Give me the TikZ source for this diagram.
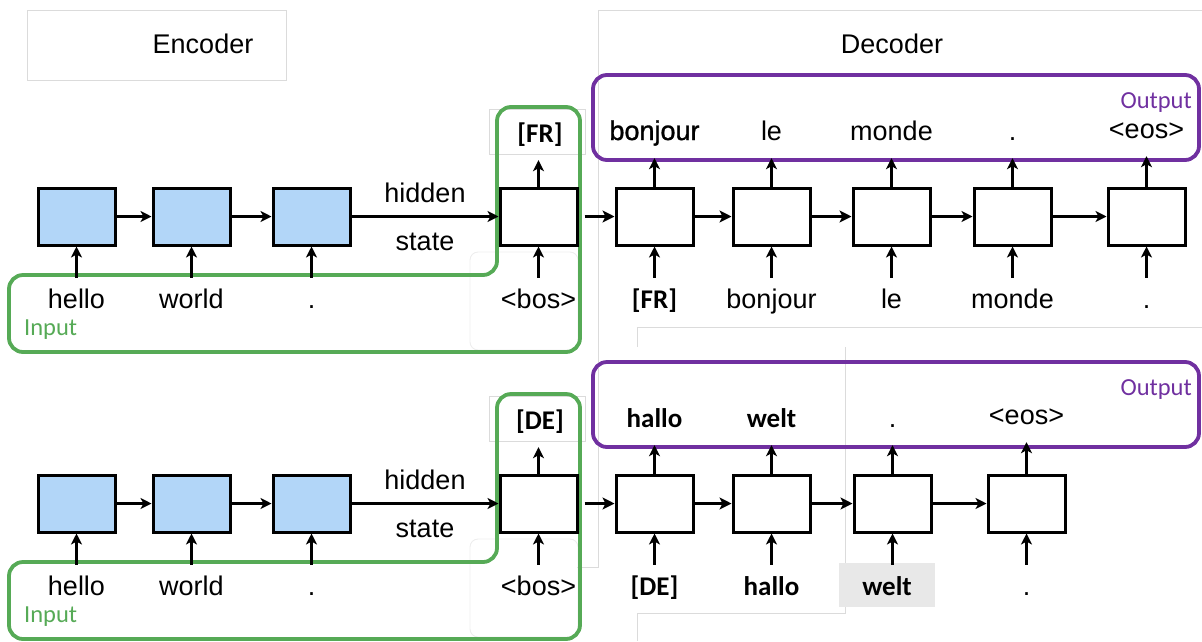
\documentclass[tikz,border=0pt]{standalone}
\usepackage{fontspec}
\setmainfont{Liberation Sans}
\newfontfamily\calfont{Carlito}
\newfontfamily\fbfont[FakeBold=1.2]{Liberation Sans}
\usetikzlibrary{arrows.meta}
\definecolor{cellblue}{RGB}{178,214,248}
\definecolor{ingreen}{RGB}{86,170,86}
\definecolor{outpurple}{RGB}{112,48,160}
\begin{document}
\begin{tikzpicture}[x=1pt,y=-1pt,
  cellbox/.style={draw=black, line width=3pt, minimum width=77pt, minimum height=57pt, inner sep=0pt},
  encbox/.style={cellbox, fill=cellblue},
  decbox/.style={cellbox, fill=white},
  word/.style={font=\fontsize{27}{32}\selectfont, text height=19pt, text depth=6pt, inner xsep=0pt, anchor=base},
  boldword/.style={word, font=\calfont\bfseries\fontsize{27}{32}\selectfont},
  inlab/.style={inner ysep=11pt},
  outlab/.style={inner ysep=12pt},
  title/.style={font=\fontsize{27}{32}\selectfont, anchor=base, inner sep=0pt},
  tagtext/.style={font=\calfont\fontsize{24.5}{29}\selectfont, inner sep=0pt},
  arr/.style={-{Stealth[length=11pt,width=11pt,inset=3pt]}, line width=2.5pt},
  thickarr/.style={-{Stealth[length=12pt,width=12pt,inset=3pt]}, line width=3.3pt},
  faint/.style={draw=black!14, line width=0.9pt},
  veryfaint/.style={draw=black!7, line width=0.9pt},
  greenline/.style={draw=ingreen, line width=3.8pt, rounded corners=14pt},
  purpleline/.style={draw=outpurple, line width=3.8pt, rounded corners=14pt}
]
\useasboundingbox (0,0) rectangle (1202,641);

% faint frames of the pasted pictures
\draw[faint] (27,10) rectangle (286,80);
\draw[faint] (577,567) -- (598,567) -- (598,10) -- (1202,10);
\draw[faint] (1202,327) -- (637,327) -- (637,347);
\draw[faint] (845,347) -- (845,613) -- (637,613) -- (637,641);
\draw[faint] (489,109) rectangle (585,154);
\draw[faint] (489,396) rectangle (585,441);
\draw[veryfaint, rounded corners=8pt] (470,252) rectangle (578,350);
\draw[veryfaint, rounded corners=8pt] (470,539) rectangle (578,637);
\fill[black!9] (839,563) rectangle (935,607);

\node[title] (enc) at (203,53) {Encoder};
\node[title] (dec) at (892,53) {Decoder};

% ---------- encoder part, both rows ----------
\foreach \r/\dy in {t/0,b/287}{
  \draw[greenline] (9,{352+\dy}) -- (9,{275+\dy}) -- (497,{275+\dy}) -- (497,{107+\dy}) -- (580,{107+\dy}) -- (580,{352+\dy}) -- cycle;
  \draw[purpleline] (593,{75+\dy}) rectangle (1199,{160+\dy});
  \node[tagtext, text=ingreen, anchor=base west] (\r input) at (24,{335+\dy}) {Input};
  \node[tagtext, text=outpurple, anchor=base east] (\r output) at (1192,{108+\dy}) {Output};
  \node[encbox] (\r e1) at (76.5,{216.5+\dy}) {};
  \node[encbox] (\r e2) at (191.5,{216.5+\dy}) {};
  \node[encbox] (\r e3) at (311.5,{216.5+\dy}) {};
  \node[decbox] (\r d0) at (538.5,{216.5+\dy}) {};
  \node[word, inlab] (\r i1) at (76.5,{308+\dy}) {hello};
  \node[word, inlab] (\r i2) at (191.5,{308+\dy}) {world};
  \node[word, inlab] (\r i3) at (311.5,{308+\dy}) {.};
  \node[word, inlab] (\r i0) at (538.5,{308+\dy}) {<bos>};
  \node[title] (\r hid) at (425,{202+\dy}) {hidden};
  \node[title] (\r st) at (425,{250+\dy}) {state};
  \draw[arr] (\r e1) -- (\r e2);
  \draw[arr] (\r e2) -- (\r e3);
  \draw[arr] (\r e3) -- (\r d0);
  \draw[arr] (\r i1.north -| \r e1.south) -- (\r e1.south);
  \draw[arr] (\r i2.north -| \r e2.south) -- (\r e2.south);
  \draw[arr] (\r i3.north -| \r e3.south) -- (\r e3.south);
  \draw[arr] (\r i0.north -| \r d0.south) -- (\r d0.south);
}

% ---------- top decoder ----------
\node[decbox] (td1) at (654.5,216.5) {};
\node[decbox] (td2) at (771.5,216.5) {};
\node[decbox] (td3) at (891.5,216.5) {};
\node[decbox] (td4) at (1012.5,216.5) {};
\node[decbox] (td5) at (1146.5,216.5) {};
\draw[thickarr, shorten <=6pt] (td0) -- (td1);
\draw[thickarr] (td1) -- (td2);
\draw[thickarr] (td2) -- (td3);
\draw[arr] (td3) -- (td4);
\draw[arr] (td4) -- (td5);

\node[boldword, outlab] (to0) at (540,142) {[FR]};
\node[word, outlab, font=\fbfont\fontsize{27}{32}\selectfont] (to1) at (654.5,140) {bonjour};
\node[word, outlab] (to2) at (771.5,140) {le};
\node[word, outlab] (to3) at (891.5,140) {monde};
\node[word, outlab] (to4) at (1012.5,140) {.};
\node[word, outlab] (to5) at (1146.5,138) {<eos>};

\node[boldword, inlab] (ti1) at (654.5,308) {[FR]};
\node[word, inlab] (ti2) at (771.5,308) {bonjour};
\node[word, inlab] (ti3) at (891.5,308) {le};
\node[word, inlab] (ti4) at (1012.5,308) {monde};
\node[word, inlab] (ti5) at (1146.5,308) {.};

\draw[arr] (td0.north) -- (to0.south -| td0.north);
\foreach \k in {1,...,5}{
  \draw[arr] (td\k.north) -- (to\k.south -| td\k.north);
  \draw[arr] (ti\k.north -| td\k.south) -- (td\k.south);
}

% ---------- bottom decoder ----------
\node[decbox] (bd1) at (654.5,503.5) {};
\node[decbox] (bd2) at (771.5,503.5) {};
\node[decbox] (bd3) at (892.5,503.5) {};
\node[decbox] (bd4) at (1026.5,503.5) {};
\draw[thickarr, shorten <=6pt] (bd0) -- (bd1);
\draw[thickarr] (bd1) -- (bd2);
\draw[thickarr] (bd2) -- (bd3);
\draw[arr] (bd3) -- (bd4);

\node[boldword, outlab] (bo0) at (540,429) {[DE]};
\node[boldword, outlab] (bo1) at (654.5,427) {hallo};
\node[boldword, outlab] (bo2) at (771.5,427) {welt};
\node[word, outlab] (bo3) at (892.5,427) {.};
\node[word, outlab] (bo4) at (1026.5,424) {<eos>};

\node[boldword, inlab] (bi1) at (654.5,595) {[DE]};
\node[boldword, inlab] (bi2) at (771.5,595) {hallo};
\node[boldword, inlab] (bi3) at (887,595) {welt};
\node[word, inlab] (bi4) at (1026.5,595) {.};

\draw[arr] (bd0.north) -- (bo0.south -| bd0.north);
\foreach \k in {1,...,4}{
  \draw[arr] (bd\k.north) -- (bo\k.south -| bd\k.north);
  \draw[arr] (bi\k.north -| bd\k.south) -- (bd\k.south);
}
\end{tikzpicture}
\end{document}
